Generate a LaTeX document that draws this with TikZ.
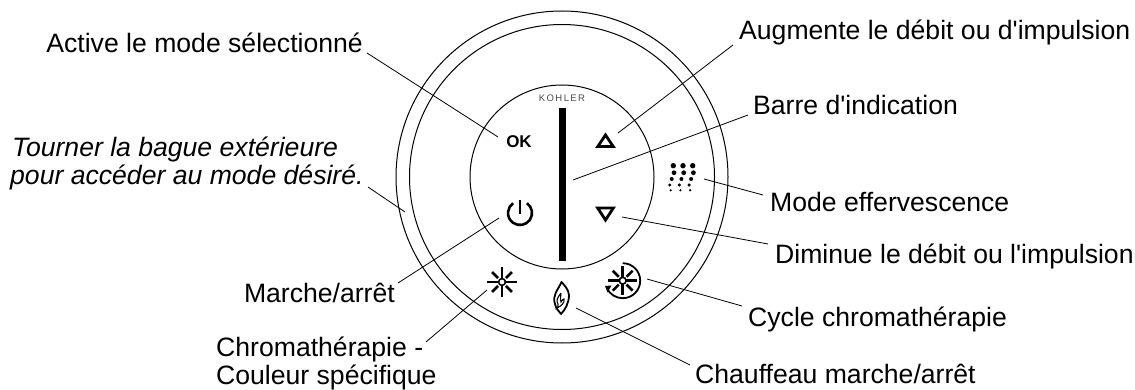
\documentclass[tikz,border=0pt]{standalone}
\usepackage{fontspec}
\newfontfamily\lab{Liberation Sans}
\newfontfamily\labspaced[LetterSpace=15]{Liberation Sans}
\begin{document}
\begin{tikzpicture}[x=1pt,y=-1pt,
  lbl/.style={inner sep=0pt,font=\lab\fontsize{26.6}{28}\selectfont,align=left},
  lead/.style={line width=0.8pt},
  ring/.style={draw,line width=1pt},
  tri/.style={line width=2.8pt,line join=miter},
  ray/.style={line width=2.6pt}]
\path[use as bounding box] (0,0) rectangle (1135,390);
\coordinate (c) at (562,177);
\draw[ring] (c) circle (166);
\draw[ring] (c) circle (152.5);
\draw[ring] (c) circle (92);
\node[inner sep=0pt,font=\labspaced\fontsize{9.5}{10}\selectfont,text=black!70] (kohler) at (562,98) {KOHLER};
\fill (559,108) rectangle (566,261);
\node[inner sep=0pt,font=\lab\bfseries\fontsize{17}{18}\selectfont] (ok) at (519,142) {OK};
% up/down triangles
\draw[tri] (597.7,146.6) -- (613.3,146.6) -- (605.5,135) -- cycle;
\draw[tri] (597.7,208.1) -- (613.3,208.1) -- (605.5,220) -- cycle;
% power
\draw[line width=2.6pt] (520,213) ++(-55:12) arc[start angle=-55,end angle=235,radius=12];
\draw[line width=2.6pt] (520,200) -- (520,214);
% effervescence dots
\foreach \r/\y/\dx in {2.7/165.7/0,2.4/172.7/0.7,2/179/-1.6,1.7/185/-3.6,1.2/190.3/-2.6}{
  \foreach \k in {0,1,2}{\fill (673.3+\k*9.7+\dx,\y) circle (\r);}}
% sun
\foreach \a in {0,90,180,270}{\draw[ray] (502,282)++(\a:3.5) -- ++(\a:11.2);}
\foreach \a in {45,135,225,315}{\draw[ray] (502,282)++(\a:5.5) -- ++(\a:8.5);}
\draw[line width=1.6pt,fill=white] (502,282) circle (3.4);
% cycle
\foreach \a in {0,90,180,270}{\draw[ray] (622.7,280.7)++(\a:3.5) -- ++(\a:11.2);}
\foreach \a in {45,135,225,315}{\draw[ray] (622.7,280.7)++(\a:5.5) -- ++(\a:8.5);}
\draw[line width=1.6pt,fill=white] (622.7,280.7) circle (3.4);
\draw[line width=1.8pt] (622.7,280.7) ++(-90:17.5) arc[start angle=-90,end angle=155,radius=17.5];
\fill (605,286) -- (611.5,285.5) -- (607.5,292.5) -- cycle;
% flame
\draw[line width=1.8pt,line join=round] (561.5,282) .. controls (558,290) and (552,295) .. (555,304) .. controls (556,309) and (559,311) .. (561,314) .. controls (565,310) and (569,303) .. (569,295) .. controls (568.5,289) and (564,285) .. (561.5,282) -- cycle;
\draw[line width=1.1pt] (561,293) .. controls (557,298) and (556,301) .. (558,304) .. controls (559,306) and (557,308) .. (557,308) .. controls (561,306) and (565,303) .. (564,299) .. controls (563,298) and (563,300) .. (561,302) .. controls (560,298) and (561,296) .. (561,293);
% labels
\node[lbl,anchor=base east] (active) at (363,53) {Active le mode sélectionné};
\node[lbl,anchor=base west] (aug) at (739,40) {Augmente le débit ou d'impulsion};
\node[lbl,anchor=base west] (barre) at (753,115) {Barre d'indication};
\node[lbl,anchor=base west] (eff) at (770,212) {Mode effervescence};
\node[lbl,anchor=base west] (dim) at (775,263) {Diminue le débit ou l'impulsion};
\node[lbl,anchor=base west] (cyc) at (748,326) {Cycle chromathérapie};
\node[lbl,anchor=base west] (chauf) at (695,383) {Chauffeau marche/arrêt};
\node[lbl,anchor=base east] (marche) at (395,302) {Marche/arrêt};
\node[lbl,anchor=north west] (chroma) at (216,336.5) {Chromathérapie -\\Couleur spécifique};
\node[lbl,anchor=north west,font=\lab\itshape\fontsize{26.6}{28}\selectfont] (bague) at (10,136.5) {\hspace{2pt}Tourner la bague extérieure\\pour accéder au mode désiré.};
% free ends
\coordinate (a1) at (367,53); \coordinate (a2) at (498,137);
\coordinate (b1) at (733,45); \coordinate (b2) at (618,133);
\coordinate (d1) at (748,115); \coordinate (d2) at (573,180);
\coordinate (e1) at (763,195); \coordinate (e2) at (704,179);
\coordinate (f1) at (768,244); \coordinate (f2) at (622,217);
\coordinate (g1) at (742,306); \coordinate (g2) at (647,279);
\coordinate (h1) at (690,365); \coordinate (h2) at (576,308);
\coordinate (i1) at (426,342); \coordinate (i2) at (487,290);
\coordinate (j1) at (398,283); \coordinate (j2) at (499,218);
\coordinate (k1) at (368,187); \coordinate (k2) at (405,212);
\foreach \p/\q in {a1/a2,b1/b2,d1/d2,e1/e2,f1/f2,g1/g2,h1/h2,i1/i2,j1/j2,k1/k2}{\draw[lead] (\p) -- (\q);}
\end{tikzpicture}
\end{document}
